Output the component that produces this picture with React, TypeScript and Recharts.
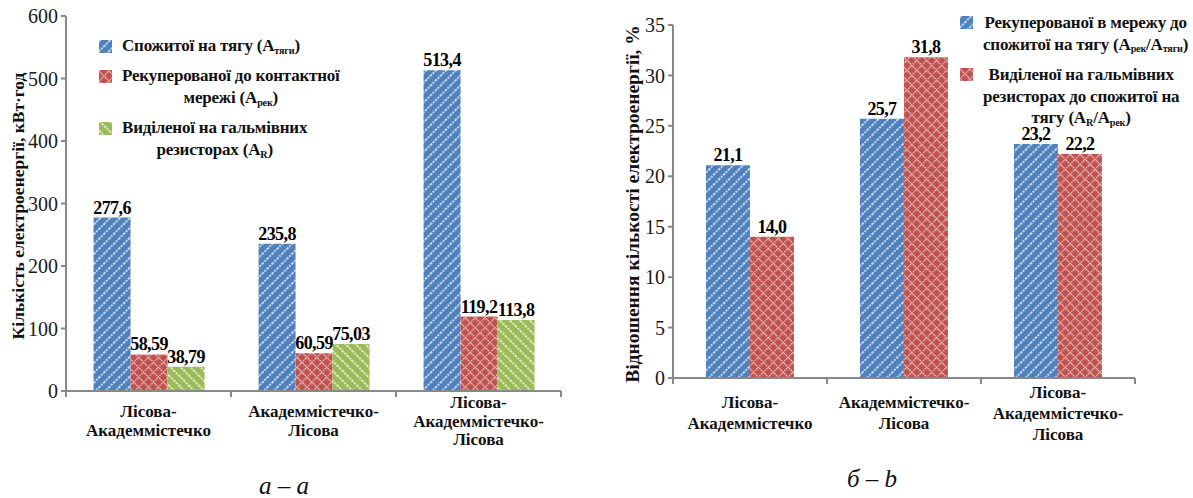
import React from 'react';
import { BarChart, Bar, XAxis, YAxis, LabelList, Legend } from 'recharts';

// Routes (category axis)
const routeNames = ['Лісова-Академмістечко', 'Академмістечко-Лісова', 'Лісова-Академмістечко-Лісова'];

// Chart а: amount of electric energy, kW·h
const tractionEnergy = [277.6, 235.8, 513.4];
const recoveredEnergy = [58.59, 60.59, 119.2];
const resistorEnergy = [38.79, 75.03, 113.8];
const energyTicks = [0, 100, 200, 300, 400, 500, 600];

// Chart б: ratios, %
const recoveredShare = [21.1, 25.7, 23.2];
const resistorShare = [14.0, 31.8, 22.2];
const shareTicks = [0, 5, 10, 15, 20, 25, 30, 35];

const BLUE = '#4F81BD';
const RED = '#C0504D';
const GREEN = '#9BBB59';
const AXIS = '#888888';
const FONT = "'Liberation Serif', 'DejaVu Serif', 'Noto Serif', serif";

const energyData = routeNames.map((route, i) => ({
  route,
  traction: tractionEnergy[i],
  recovered: recoveredEnergy[i],
  resistor: resistorEnergy[i],
}));

const shareData = routeNames.map((route, i) => ({
  route,
  recovered: recoveredShare[i],
  resistor: resistorShare[i],
}));

const withComma = (v: number, digits: number) => Number(v).toFixed(digits).replace('.', ',');
const energyLabel = (v: any) => withComma(v, v >= 100 ? 1 : 2);
const shareLabel = (v: any) => withComma(v, 1);

function Patterns() {
  return (
    <svg width={0} height={0} style={{ position: 'absolute' }} aria-hidden="true">
      <defs>
        <pattern id="hatch-blue" width={7} height={7} patternUnits="userSpaceOnUse" patternTransform="rotate(45)">
          <rect width={7} height={7} fill={BLUE} />
          <line x1={1} y1={0} x2={1} y2={7} stroke="#fff" strokeWidth={1.3} strokeDasharray="2 1" />
        </pattern>
        <pattern id="hatch-green" width={7} height={7} patternUnits="userSpaceOnUse" patternTransform="rotate(-45)">
          <rect width={7} height={7} fill={GREEN} />
          <line x1={1} y1={0} x2={1} y2={7} stroke="#fff" strokeWidth={1.3} strokeDasharray="2 1" />
        </pattern>
        <pattern id="lattice-red" width={7} height={7} patternUnits="userSpaceOnUse" patternTransform="rotate(45)">
          <rect width={7} height={7} fill={RED} />
          <line x1={0.7} y1={0} x2={0.7} y2={7} stroke="#fff" strokeWidth={1.2} strokeDasharray="1.2 1.13" />
          <line x1={0} y1={0.7} x2={7} y2={0.7} stroke="#fff" strokeWidth={1.2} strokeDasharray="1.2 1.13" />
        </pattern>
      </defs>
    </svg>
  );
}

// Category tick: multi-line route name plus boundary tick marks between categories
function RouteTick(props: any) {
  const { x, y, payload, index, visibleTicksCount, center, gap, fontSize } = props;
  const half = payload && payload.offset ? payload.offset : 0;
  const lines = String(payload.value).split(/(?<=-)/);
  const first = y + center - ((lines.length - 1) * gap) / 2;
  const last = index === (visibleTicksCount ?? 3) - 1;
  return (
    <g>
      <line x1={x - half} y1={y} x2={x - half} y2={y + 6} stroke={AXIS} strokeWidth={2} />
      {last && <line x1={x + half} y1={y} x2={x + half} y2={y + 6} stroke={AXIS} strokeWidth={2} />}
      <text textAnchor="middle" fontWeight={700} fontSize={fontSize} fill="#111" style={{ fontFamily: FONT }}>
        {lines.map((l, i) => (
          <tspan key={i} x={x} y={first + i * gap} dominantBaseline="central">
            {l}
          </tspan>
        ))}
      </text>
    </g>
  );
}

// Rotated y-axis title, centred on the given point
function AxisTitle(props: any) {
  const { text, at, fontSize } = props;
  const [cx, cy] = at;
  return (
    <text
      x={cx}
      y={cy}
      transform={`rotate(-90 ${cx} ${cy})`}
      textAnchor="middle"
      dominantBaseline="central"
      fontWeight={700}
      fontSize={fontSize}
      fill="#111"
      style={{ fontFamily: FONT }}
    >
      {text}
    </text>
  );
}

const Sub = ({ children }: any) => (
  <span style={{ fontSize: '0.6em', position: 'relative', top: '0.25em', lineHeight: 0 }}>{children}</span>
);

function LegendBox({ items, gap, lineHeight }: any) {
  return (
    <div style={{ fontFamily: FONT, fontWeight: 700, fontSize: 17, letterSpacing: -0.2, color: '#111' }}>
      {items.map((it: any, i: number) => (
        <div key={i} style={{ display: 'flex', alignItems: 'flex-start', marginBottom: gap }}>
          <svg width={13} height={13} style={{ marginTop: (lineHeight - 13) / 2, flex: 'none' }}>
            <rect width={13} height={13} fill={it.fill} />
          </svg>
          <div style={{ marginLeft: 10, textAlign: 'center' }}>
            {it.lines.map((l: any, j: number) => (
              <div key={j} style={{ whiteSpace: 'nowrap', height: lineHeight, lineHeight: `${lineHeight}px` }}>{l}</div>
            ))}
          </div>
        </div>
      ))}
    </div>
  );
}

const energyLegend = [
  { fill: 'url(#hatch-blue)', lines: [<>Спожитої на тягу (A<Sub>тяги</Sub>)</>] },
  { fill: 'url(#lattice-red)', lines: ['Рекуперованої до контактної', <>мережі (A<Sub>рек</Sub>)</>] },
  { fill: 'url(#hatch-green)', lines: ['Виділеної на гальмівних', <>резисторах (A<Sub>R</Sub>)</>] },
];

const shareLegend = [
  {
    fill: 'url(#hatch-blue)',
    lines: ['Рекуперованої в мережу до', <>спожитої на тягу (A<Sub>рек</Sub>/A<Sub>тяги</Sub>)</>],
  },
  {
    fill: 'url(#lattice-red)',
    lines: ['Виділеної на гальмівних', 'резисторах до спожитої на', <>тягу (A<Sub>R</Sub>/A<Sub>рек</Sub>)</>],
  },
];

const dataLabelProps = {
  position: 'top' as const,
  offset: 4,
  fill: '#000',
  fontWeight: 700,
  fontSize: 18,
  style: { fontFamily: FONT, letterSpacing: -0.6 },
};

const axisStyle = { stroke: AXIS, strokeWidth: 2 };
const valueTick = { fontSize: 20, fill: '#1a1a1a', style: { fontFamily: FONT } };

export default function App() {
  return (
    <div style={{ position: 'absolute', left: 0, top: 0, width: 1193, height: 498, background: '#fff', fontFamily: FONT }}>
      <Patterns />

      {/* а: amounts of energy */}
      <div style={{ position: 'absolute', left: 0, top: 0 }}>
        <BarChart
          width={600}
          height={498}
          data={energyData}
          margin={{ top: 16, right: 39, bottom: 37, left: 0 }}
          barCategoryGap="16.7%"
          barGap={0}
        >
          <XAxis
            dataKey="route"
            height={70}
            axisLine={axisStyle}
            tickLine={false}
            tickSize={0}
            tickMargin={0}
            interval={0}
            tick={(p: any) => <RouteTick {...p} center={30} gap={18.5} fontSize={17} />}
          />
          <YAxis
            width={66}
            domain={[0, 600]}
            ticks={energyTicks}
            interval={0}
            axisLine={axisStyle}
            tickLine={axisStyle}
            tickSize={5}
            tickMargin={3}
            tick={valueTick}
            label={<AxisTitle text="Кількість електроенергії, кВт·год" at={[18, 206]} fontSize={17.5} />}
          />
          <Legend
            layout="vertical"
            align="center"
            verticalAlign="middle"
            wrapperStyle={{ left: 99, top: 35, width: 300, right: 'auto', bottom: 'auto' }}
            content={() => <LegendBox items={energyLegend} gap={8} lineHeight={22} />}
          />
          <Bar dataKey="traction" fill="url(#hatch-blue)" isAnimationActive={false}>
            <LabelList dataKey="traction" formatter={energyLabel} {...dataLabelProps} />
          </Bar>
          <Bar dataKey="recovered" fill="url(#lattice-red)" isAnimationActive={false}>
            <LabelList dataKey="recovered" formatter={energyLabel} {...dataLabelProps} />
          </Bar>
          <Bar dataKey="resistor" fill="url(#hatch-green)" isAnimationActive={false}>
            <LabelList dataKey="resistor" formatter={energyLabel} {...dataLabelProps} />
          </Bar>
        </BarChart>
      </div>

      {/* б: ratios */}
      <div style={{ position: 'absolute', left: 600, top: 0 }}>
        <BarChart
          width={593}
          height={498}
          data={shareData}
          margin={{ top: 25, right: 58, bottom: 50, left: 0 }}
          barCategoryGap="21.4%"
          barGap={0}
        >
          <XAxis
            dataKey="route"
            height={70}
            axisLine={axisStyle}
            tickLine={false}
            tickSize={0}
            tickMargin={0}
            interval={0}
            tick={(p: any) => <RouteTick {...p} center={35} gap={21} fontSize={17} />}
          />
          <YAxis
            width={73}
            domain={[0, 35]}
            ticks={shareTicks}
            interval={0}
            axisLine={axisStyle}
            tickLine={axisStyle}
            tickSize={5}
            tickMargin={3}
            tick={valueTick}
            label={<AxisTitle text="Відношення кількості електроенергії, %" at={[32, 204]} fontSize={19.5} />}
          />
          <Legend
            layout="vertical"
            align="center"
            verticalAlign="middle"
            wrapperStyle={{ left: 360, top: 12, width: 233, right: 'auto', bottom: 'auto' }}
            content={() => <LegendBox items={shareLegend} gap={9} lineHeight={21.5} />}
          />
          <Bar dataKey="recovered" fill="url(#hatch-blue)" isAnimationActive={false}>
            <LabelList dataKey="recovered" formatter={shareLabel} {...dataLabelProps} />
          </Bar>
          <Bar dataKey="resistor" fill="url(#lattice-red)" isAnimationActive={false}>
            <LabelList dataKey="resistor" formatter={shareLabel} {...dataLabelProps} />
          </Bar>
        </BarChart>
      </div>

      <div
        style={{
          position: 'absolute', left: 184, top: 471, width: 200, textAlign: 'center',
          fontStyle: 'italic', fontSize: 25, lineHeight: '30px', color: '#111',
        }}
      >
        а – a
      </div>
      <div
        style={{
          position: 'absolute', left: 772, top: 464, width: 200, textAlign: 'center',
          fontStyle: 'italic', fontSize: 25, lineHeight: '30px', color: '#111',
        }}
      >
        б – b
      </div>
    </div>
  );
}
